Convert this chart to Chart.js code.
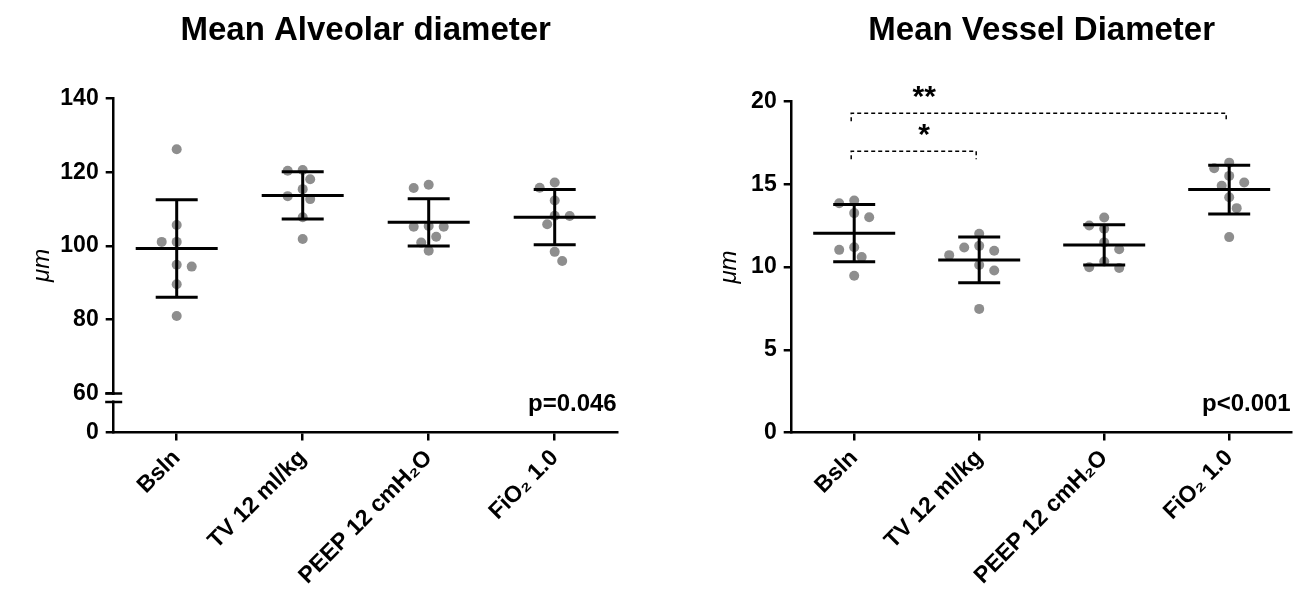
<!DOCTYPE html>
<html>
<head>
<meta charset="utf-8">
<script src="https://cdn.jsdelivr.net/npm/chart.js@4.4.1/dist/chart.umd.min.js"></script>
<style>
  html, body { margin: 0; padding: 0; background: #ffffff; }
  #wrap { position: relative; width: 1308px; height: 604px; overflow: hidden; }
  .cell { position: absolute; top: 0; width: 654px; height: 604px; }
</style>
</head>
<body>
<div id="wrap">
  <div class="cell" style="left:0px"><canvas id="leftChart"></canvas></div>
  <div class="cell" style="left:654px"><canvas id="rightChart"></canvas></div>
</div>
<script>
// ---------------- data ----------------
const categories = ['Bsln', 'TV 12 ml/kg', 'PEEP 12 cmH\u2082O', 'FiO\u2082 1.0'];

const alveolarBsln = [126.2, 105.7, 101.1, 101.1, 94.9, 94.4, 89.6, 81.0];
const alveolarTV   = [120.6, 120.4, 118.1, 115.4, 113.5, 112.7, 107.8, 101.9];
const alveolarPEEP = [116.6, 115.7, 105.4, 105.2, 105.2, 102.5, 100.9, 98.7];
const alveolarFiO2 = [117.2, 115.8, 112.3, 108.2, 108.1, 105.9, 98.4, 95.9];
const alveolarMean = [99.3, 113.7, 106.4, 107.8];
const alveolarSD   = [13.2, 6.4, 6.4, 7.5];
const alveolarTicks = [60, 80, 100, 120, 140];
const alveolarLowTicks = [0];
const alveolarP = 'p=0.046';

const vesselBsln = [14.02, 13.86, 13.26, 13.01, 11.20, 11.04, 10.60, 9.47];
const vesselTV   = [12.01, 11.28, 11.18, 10.98, 10.72, 10.12, 9.79, 7.47];
const vesselPEEP = [12.99, 12.51, 12.31, 11.49, 11.08, 10.34, 9.99, 9.94];
const vesselFiO2 = [16.31, 15.97, 15.51, 15.11, 14.91, 14.22, 13.56, 11.81];
const vesselMean = [12.05, 10.43, 11.34, 14.68];
const vesselSD   = [1.73, 1.38, 1.22, 1.47];
const vesselTicks = [0, 5, 10, 15, 20];
const vesselP = 'p<0.001';
const vesselBracketFrom  = [0, 0];
const vesselBracketTo    = [1, 3];
const vesselBracketLevel = [17.0, 19.3];
const vesselBracketLabel = ['*', '**'];

// ---------------- styling ----------------
const FONT = "'Liberation Sans', Arial, Helvetica, sans-serif";
Chart.defaults.font.family = FONT;
Chart.defaults.color = '#000';
const DOT_COLOR = '#8e8e8e';
const SLOT = 7.5;       // horizontal spread step for overlapping dots (px)
const MIN_DIST = 11;    // minimum centre distance between dots (px)
const MEAN_HALF = 41;
const CAP_HALF = 21;
const X_AXIS_H = 171.5;

function makeDatasets(groups, yId) {
  return groups.map((vals, i) => ({
    data: vals.map(v => ({ x: i, y: v })),
    yAxisID: yId,
    backgroundColor: DOT_COLOR,
    borderWidth: 0,
    pointRadius: 5,
    pointHoverRadius: 5
  }));
}

function xAxis() {
  return {
    type: 'linear', min: -0.5, max: 3.5,
    afterBuildTicks: s => { s.ticks = categories.map((c, i) => ({ value: i })); },
    afterFit: s => { s.height = X_AXIS_H; },
    ticks: {
      callback: v => categories[v],
      autoSkip: false, minRotation: 45, maxRotation: 45,
      font: { family: FONT, size: 23, weight: 'bold' }, color: '#000', padding: 4
    },
    grid: { display: true, drawOnChartArea: false, drawTicks: true, tickLength: 8, color: '#000', lineWidth: 2.5 },
    border: { display: true, color: '#000', width: 2.5 }
  };
}

function yAxis(extra) {
  return Object.assign({
    type: 'linear', position: 'left',
    ticks: { font: { family: FONT, size: 23, weight: 'bold' }, color: '#000', padding: 7 },
    grid: { display: true, drawOnChartArea: false, drawTicks: true, tickLength: 8, color: '#000', lineWidth: 2.5 },
    border: { display: true, color: '#000', width: 2.5 }
  }, extra);
}

// mean +/- SD bars drawn through the chart scales
function summaryPlugin(means, sds, yId) {
  return {
    id: 'summary',
    afterDatasetsDraw(chart) {
      const ctx = chart.ctx, x = chart.scales.x, y = chart.scales[yId];
      ctx.save();
      ctx.strokeStyle = '#000';
      ctx.lineWidth = 3;
      means.forEach((m, i) => {
        const cx = x.getPixelForValue(i);
        const ym = y.getPixelForValue(m);
        const yt = y.getPixelForValue(m + sds[i]);
        const yb = y.getPixelForValue(m - sds[i]);
        ctx.beginPath();
        ctx.moveTo(cx - MEAN_HALF, ym); ctx.lineTo(cx + MEAN_HALF, ym);
        ctx.moveTo(cx, yt); ctx.lineTo(cx, yb);
        ctx.moveTo(cx - CAP_HALF, yt); ctx.lineTo(cx + CAP_HALF, yt);
        ctx.moveTo(cx - CAP_HALF, yb); ctx.lineTo(cx + CAP_HALF, yb);
        ctx.stroke();
      });
      ctx.restore();
    }
  };
}

function pValuePlugin(text) {
  return {
    id: 'pvalue',
    afterDraw(chart) {
      const ctx = chart.ctx, a = chart.chartArea;
      ctx.save();
      ctx.fillStyle = '#000';
      ctx.font = 'bold 24px ' + FONT;
      ctx.textAlign = 'right';
      ctx.textBaseline = 'alphabetic';
      ctx.fillText(text, a.right - 1, a.bottom - 22);
      ctx.restore();
    }
  };
}

// axis break + rotated unit label for the alveolar chart
const alveolarExtras = {
  id: 'alveolarExtras',
  afterDraw(chart) {
    const ctx = chart.ctx, yU = chart.scales.y, a = chart.chartArea;
    const axisX = a.left;
    const yBreak = yU.getPixelForValue(alveolarTicks[0]);
    ctx.save();
    ctx.fillStyle = '#fff';
    ctx.fillRect(axisX - 3, yBreak + 1.5, 6, 5.5);
    ctx.strokeStyle = '#000';
    ctx.lineWidth = 2.5;
    ctx.beginPath();
    ctx.moveTo(axisX - 8.5, yBreak); ctx.lineTo(axisX + 8.5, yBreak);
    ctx.moveTo(axisX - 8.5, yBreak + 8.5); ctx.lineTo(axisX + 8.5, yBreak + 8.5);
    ctx.stroke();
    // unit label
    const cy = (a.top + a.bottom) / 2;
    ctx.translate(42, cy);
    ctx.rotate(-Math.PI / 2);
    ctx.fillStyle = '#000';
    ctx.font = 'italic 24px ' + FONT;
    ctx.textAlign = 'center';
    ctx.textBaseline = 'middle';
    ctx.fillText('\u03bcm', 0, 0);
    ctx.restore();
  }
};

const vesselBrackets = {
  id: 'vesselBrackets',
  afterDraw(chart) {
    const ctx = chart.ctx, x = chart.scales.x, y = chart.scales.y;
    ctx.save();
    vesselBracketLevel.forEach((lvl, k) => {
      const x1 = x.getPixelForValue(vesselBracketFrom[k]) - 3;
      const x2 = x.getPixelForValue(vesselBracketTo[k]) - 3;
      const yy = y.getPixelForValue(lvl);
      ctx.strokeStyle = '#000';
      ctx.lineWidth = 1.5;
      ctx.setLineDash([4, 3]);
      ctx.beginPath();
      ctx.moveTo(x1, yy + 8); ctx.lineTo(x1, yy); ctx.lineTo(x2, yy); ctx.lineTo(x2, yy + 8);
      ctx.stroke();
      ctx.setLineDash([]);
      ctx.fillStyle = '#000';
      ctx.font = 'bold 30px ' + FONT;
      ctx.textAlign = 'center';
      ctx.textBaseline = 'alphabetic';
      ctx.fillText(vesselBracketLabel[k], x.getPixelForValue(vesselBracketFrom[k] + 0.56), yy - 7);
    });
    ctx.restore();
  }
};

// spread overlapping dots sideways (computed in pixel space from the scales)
function applySwarm(chart) {
  const xs = chart.scales.x;
  chart.data.datasets.forEach((ds, i) => {
    const ys = chart.scales[ds.yAxisID];
    const cx = xs.getPixelForValue(i);
    const pts = ds.data.map(p => ({ p, py: ys.getPixelForValue(p.y), dx: 0 }));
    const order = pts.slice().sort((a, b) => a.py - b.py);
    const placed = [];
    let side = -1;
    for (const o of order) {
      for (let k = 0; k < 30; k++) {
        const off = k === 0 ? 0 : (k % 2 ? side : -side) * Math.ceil(k / 2) * SLOT;
        if (placed.every(q => Math.hypot(q.dx - off, q.py - o.py) >= MIN_DIST)) {
          o.dx = off; placed.push(o);
          if (off !== 0) side = off > 0 ? -1 : 1;
          break;
        }
      }
      o.p.x = xs.getValueForPixel(cx + o.dx);
    }
  });
  chart.update('none');
}

const baseOptions = {
  responsive: true, maintainAspectRatio: false, animation: false,
  events: [], devicePixelRatio: 1
};

// ---------------- left chart ----------------
const leftChart = new Chart(document.getElementById('leftChart'), {
  type: 'scatter',
  data: { datasets: makeDatasets([alveolarBsln, alveolarTV, alveolarPEEP, alveolarFiO2], 'y') },
  options: Object.assign({}, baseOptions, {
    layout: { padding: { left: 0, right: 36.3, top: 0, bottom: 0 } },
    plugins: {
      legend: { display: false }, tooltip: { enabled: false },
      title: {
        display: true, text: 'Mean Alveolar diameter', fullSize: false, color: '#000',
        font: { family: FONT, size: 33, weight: 'bold' }, padding: { top: 10.8, bottom: 48 }
      }
    },
    scales: {
      x: xAxis(),
      y0: yAxis({
        stack: 'alv', stackWeight: 39, min: 0, max: 10,
        afterBuildTicks: s => { s.ticks = alveolarLowTicks.map(v => ({ value: v })); },
        afterFit: s => { s.width = 113.7; }
      }),
      y: yAxis({
        stack: 'alv', stackWeight: 295, min: 60, max: 140,
        afterBuildTicks: s => { s.ticks = alveolarTicks.map(v => ({ value: v })); },
        afterFit: s => { s.width = 113.7; }
      })
    }
  }),
  plugins: [summaryPlugin(alveolarMean, alveolarSD, 'y'), pValuePlugin(alveolarP), alveolarExtras]
});
applySwarm(leftChart);

// ---------------- right chart ----------------
const rightChart = new Chart(document.getElementById('rightChart'), {
  type: 'scatter',
  data: { datasets: makeDatasets([vesselBsln, vesselTV, vesselPEEP, vesselFiO2], 'y') },
  options: Object.assign({}, baseOptions, {
    layout: { padding: { left: 0, right: 16.3, top: 0, bottom: 0 } },
    plugins: {
      legend: { display: false }, tooltip: { enabled: false },
      title: {
        display: true, text: 'Mean Vessel Diameter', fullSize: false, color: '#000',
        font: { family: FONT, size: 33, weight: 'bold' }, padding: { top: 10.8, bottom: 51.2 }
      }
    },
    scales: {
      x: xAxis(),
      y: yAxis({
        min: 0, max: 20,
        afterBuildTicks: s => { s.ticks = vesselTicks.map(v => ({ value: v })); },
        afterFit: s => { s.width = 137.7; },
        title: {
          display: true, text: '\u03bcm', color: '#000',
          font: { family: FONT, size: 24, style: 'italic', weight: 'normal' },
          padding: { top: 60.6, bottom: 0 }
        }
      })
    }
  }),
  plugins: [summaryPlugin(vesselMean, vesselSD, 'y'), pValuePlugin(vesselP), vesselBrackets]
});
applySwarm(rightChart);
</script>
</body>
</html>
